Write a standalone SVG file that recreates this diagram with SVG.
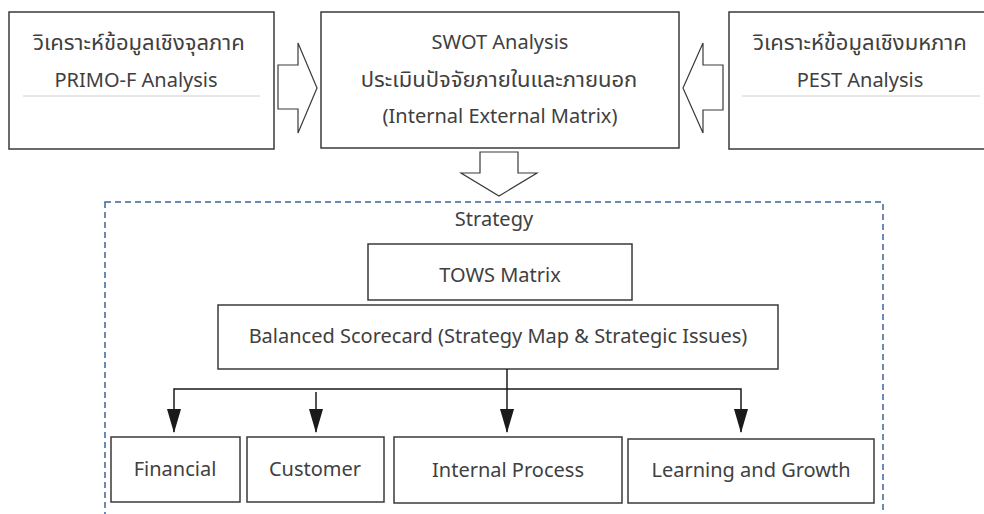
<svg xmlns="http://www.w3.org/2000/svg" width="984" height="514" viewBox="0 0 984 514">
<style>
.box{fill:#fff;stroke:#3a3a3a;stroke-width:1.5}
.bigarrow{fill:#fff;stroke:#3a3a3a;stroke-width:1.2}
.t{font-family:"Noto Sans","Noto Sans Thai","Open Sans",sans-serif;font-size:20px;fill:#404040;text-anchor:middle}
.th{font-size:22px}
.sep{stroke:#d0d0d0;stroke-width:1}
.conn{stroke:#1a1a1a;stroke-width:1.5;fill:none}
.dash{fill:none;stroke:#3d6496;stroke-width:1.5;stroke-dasharray:6,4}
</style>
<defs>
<marker id="ah" markerWidth="24" markerHeight="14" refX="23" refY="7" orient="auto-start-reverse" markerUnits="userSpaceOnUse" viewBox="0 0 24 14">
<path d="M0,0 L24,7 L0,14 Z" fill="#1a1a1a"/>
</marker>
</defs>
<rect fill="#fff" width="984" height="514"/>
<g id="strategy-frame">
<rect class="dash" x="105" y="202" width="778" height="330"/>
<text class="t" x="494" y="226">Strategy</text>
</g>
<g id="micro">
<rect class="box" x="9" y="12" width="265" height="137"/>
<text class="t th" x="139" y="50">วิเคราะห์ข้อมูลเชิงจุลภาค</text>
<text class="t" x="136" y="87">PRIMO-F Analysis</text>
<line class="sep" x1="23" y1="96" x2="260" y2="96"/>
</g>
<g id="swot">
<rect class="box" x="321" y="12" width="358" height="136"/>
<text class="t" x="500" y="49">SWOT Analysis</text>
<text class="t th" x="499" y="87">ประเมินปัจจัยภายในและภายนอก</text>
<text class="t" x="500" y="123">(Internal External Matrix)</text>
</g>
<g id="macro">
<rect class="box" x="729" y="12" width="262" height="137"/>
<text class="t th" x="860" y="50">วิเคราะห์ข้อมูลเชิงมหภาค</text>
<text class="t" x="860" y="87">PEST Analysis</text>
<line class="sep" x1="742" y1="96" x2="980" y2="96"/>
</g>
<g id="tows">
<rect class="box" x="368" y="244" width="264" height="56"/>
<text class="t" x="500" y="282">TOWS Matrix</text>
</g>
<g id="bsc">
<rect class="box" x="218" y="305" width="560" height="64"/>
<text class="t" x="498" y="343">Balanced Scorecard (Strategy Map &amp; Strategic Issues)</text>
</g>
<g id="financial">
<rect class="box" x="111" y="437" width="129" height="65"/>
<text class="t" x="175" y="476">Financial</text>
</g>
<g id="customer">
<rect class="box" x="247" y="437" width="137" height="65"/>
<text class="t" x="315" y="476">Customer</text>
</g>
<g id="internal">
<rect class="box" x="394" y="437" width="228" height="66"/>
<text class="t" x="508" y="477">Internal Process</text>
</g>
<g id="learning">
<rect class="box" x="628" y="439" width="246" height="64"/>
<text class="t" x="751" y="477">Learning and Growth</text>
</g>
<g id="connectors">
<path class="bigarrow" d="M278,65 L298,65 L298,43 L317,88 L298,133 L298,109 L278,109 Z"/>
<path class="bigarrow" d="M723,65 L703,65 L703,43 L683,88 L703,133 L703,110 L723,110 Z"/>
<path class="bigarrow" d="M480,152 L518,152 L518,173 L537,173 L499,196 L461,173 L480,173 Z"/>
<path class="conn" d="M174,432 L174,389 L741,389 L741,432" marker-start="url(#ah)" marker-end="url(#ah)"/>
<path class="conn" d="M316,392 L316,432" marker-end="url(#ah)"/>
<path class="conn" d="M507,369 L507,432" marker-end="url(#ah)"/>
</g>
</svg>
